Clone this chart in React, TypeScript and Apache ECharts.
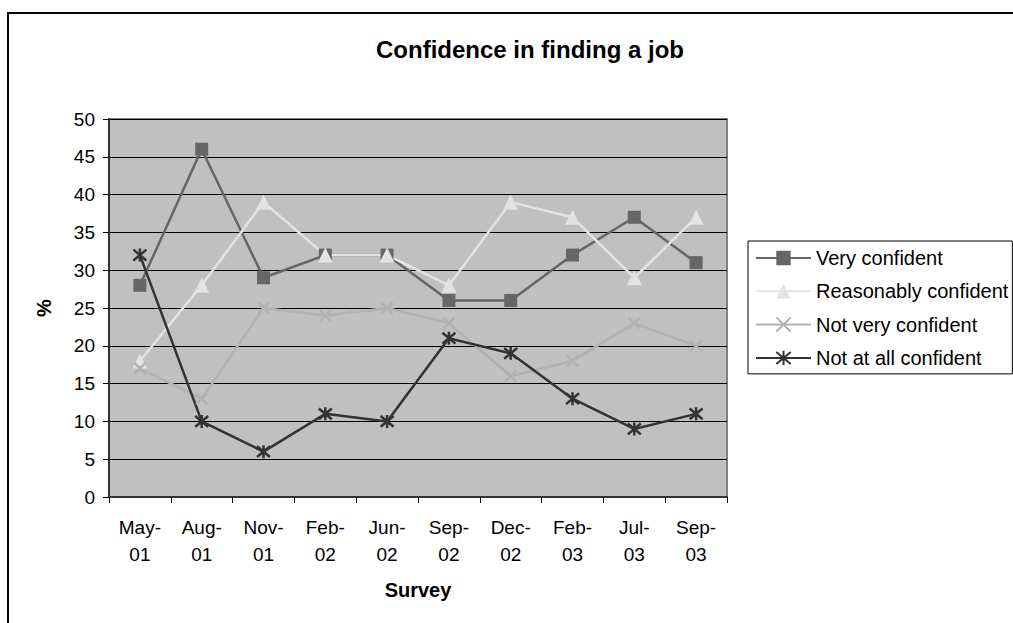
import React, { useEffect, useRef } from "react";
import * as echarts from "echarts";

const categories = ["May-01", "Aug-01", "Nov-01", "Feb-02", "Jun-02", "Sep-02", "Dec-02", "Feb-03", "Jul-03", "Sep-03"];
const veryConfident = [28, 46, 29, 32, 32, 26, 26, 32, 37, 31];
const reasonablyConfident = [18, 28, 39, 32, 32, 28, 39, 37, 29, 37];
const notVeryConfident = [17, 13, 25, 24, 25, 23, 16, 18, 23, 20];
const notAtAllConfident = [32, 10, 6, 11, 10, 21, 19, 13, 9, 11];

const FONT = "'Liberation Sans', Arial, sans-serif";
const X_PATH = "path://M0,0L10,10M10,0L0,10";
const STAR_PATH = "path://M0,1L10,11M10,1L0,11M5,0L5,12";

export default function App() {
  const ref = useRef<HTMLDivElement>(null);
  useEffect(() => {
    if (!ref.current) return;
    const chart = echarts.init(ref.current, undefined, { renderer: "svg" });
    const mk = (name: string, data: number[], color: string, symbol: string, size: number, stroke: boolean) => ({
      name,
      type: "line",
      data,
      symbol,
      symbolSize: size,
      lineStyle: { color, width: 2.5 },
      itemStyle: stroke
        ? { color, borderColor: color, borderWidth: 2.5 }
        : { color, borderWidth: 0 },
      emphasis: { disabled: true },
    });
    chart.setOption({
      animation: false,
      backgroundColor: "#ffffff",
      title: {
        text: "Confidence in finding a job",
        left: 525,
        top: 32,
        textAlign: "center",
        textStyle: { fontFamily: FONT, fontSize: 24, fontWeight: "bold", color: "#000" },
      },
      graphic: [
        {
          type: "rect",
          shape: { x: 8, y: 13, width: 1100, height: 700 },
          style: { fill: "none", stroke: "#000", lineWidth: 2 },
          silent: true,
        },
      ],
      legend: {
        orient: "vertical",
        left: 748,
        top: 241,
        padding: [7, 4, 6, 7],
        itemWidth: 55,
        itemHeight: 18,
        itemGap: 13.3,
        borderColor: "#000",
        borderWidth: 1,
        textStyle: { fontFamily: FONT, fontSize: 20, lineHeight: 20, color: "#000" },
        data: ["Very confident", "Reasonably confident", "Not very confident", "Not at all confident"],
      },
      grid: {
        left: 109,
        top: 119,
        width: 618,
        height: 378,
        show: true,
        backgroundColor: "#C0C0C0",
        borderColor: "#808080",
        borderWidth: 2,
      },
      xAxis: {
        type: "category",
        data: categories,
        boundaryGap: true,
        name: "Survey",
        nameLocation: "middle",
        nameGap: 83,
        nameTextStyle: { fontFamily: FONT, fontSize: 20, fontWeight: "bold", color: "#000", verticalAlign: "top" },
        axisLine: { lineStyle: { color: "#333", width: 2 } },
        axisTick: { show: true, length: 6, lineStyle: { color: "#000", width: 1 } },
        axisLabel: {
          margin: 17,
          interval: 0,
          fontFamily: FONT,
          fontSize: 19,
          lineHeight: 27,
          color: "#000",
          verticalAlign: "top",
          formatter: (v: string) => v.replace("-", "-\n"),
        },
        splitLine: { show: false },
      },
      yAxis: {
        type: "value",
        min: 0,
        max: 50,
        interval: 5,
        name: "%",
        nameLocation: "middle",
        nameGap: 55,
        nameTextStyle: { fontFamily: FONT, fontSize: 20, fontWeight: "bold", color: "#000" },
        axisLine: { show: true, lineStyle: { color: "#333", width: 2 } },
        axisTick: { show: true, length: 6, lineStyle: { color: "#000", width: 1 } },
        axisLabel: { margin: 14, fontFamily: FONT, fontSize: 19, color: "#000" },
        splitLine: { show: true, lineStyle: { color: "#000", width: 1 } },
      },
      series: [
        mk("Very confident", veryConfident, "#666666", "rect", 13, false),
        mk("Reasonably confident", reasonablyConfident, "#E3E3E3", "triangle", 15, false),
        mk("Not very confident", notVeryConfident, "#B2B2B2", X_PATH, 11, true),
        mk("Not at all confident", notAtAllConfident, "#333333", STAR_PATH, 13, true),
      ],
    });
    return () => chart.dispose();
  }, []);
  return (
    <div
      ref={ref}
      style={{ position: "fixed", left: 0, top: 0, width: 1013, height: 623 }}
    />
  );
}
